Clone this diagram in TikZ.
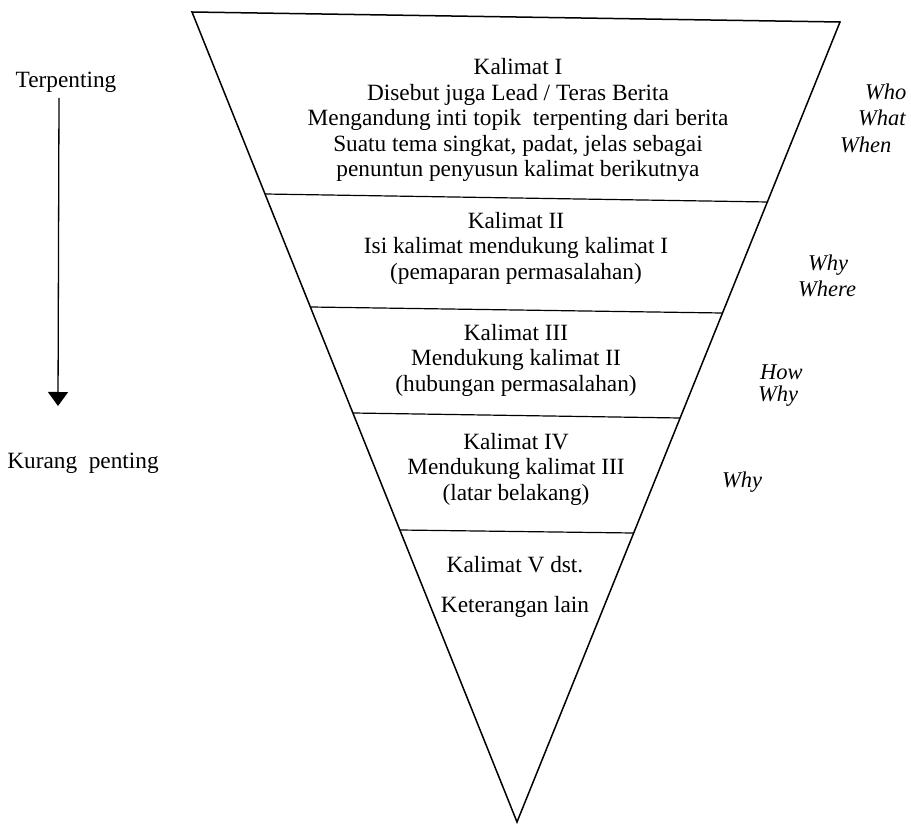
\documentclass[tikz,border=0pt]{standalone}
\usepackage{fontspec}
\setmainfont{Liberation Serif}
\usetikzlibrary{arrows.meta}
\begin{document}
\begin{tikzpicture}[x=1pt,y=-1pt,
  txt/.style={font=\fontsize{23.3}{25.5}\selectfont, align=center, inner sep=0pt},
  side/.style={font=\fontsize{23.3}{25.5}\selectfont, inner sep=0pt},
  lab/.style={font=\fontsize{22.5}{24}\selectfont\itshape, inner sep=0pt, anchor=west},
  edgeline/.style={line width=1.5pt, line join=miter},
  divline/.style={line width=1.2pt}]
\useasboundingbox (0,0) rectangle (911,826);
% triangle
\coordinate (TL) at (192,12);
\coordinate (TR) at (840,22);
\coordinate (AP) at (517,822);
\draw[edgeline] (TL) -- (TR) -- (AP) -- cycle;
% dividing lines
\coordinate (L1) at (265,194); \coordinate (R1) at (768,202);
\coordinate (L2) at (311,307); \coordinate (R2) at (722,313);
\coordinate (L3) at (353,413); \coordinate (R3) at (680,418);
\coordinate (L4) at (400,530); \coordinate (R4) at (633,533);
\draw[divline] (L1) -- (R1);
\draw[divline] (L2) -- (R2);
\draw[divline] (L3) -- (R3);
\draw[divline] (L4) -- (R4);
% texts
\node[txt] (k1) at (518,120) {Kalimat I\\Disebut juga Lead / Teras Berita\\Mengandung inti topik\ \ terpenting dari berita\\Suatu tema singkat, padat, jelas sebagai\\penuntun penyusun kalimat berikutnya};
\node[txt] (k2) at (516,248) {Kalimat II\\Isi kalimat mendukung kalimat I\\(pemaparan permasalahan)};
\node[txt] (k3) at (516,360) {Kalimat III\\Mendukung kalimat II\\(hubungan permasalahan)};
\node[txt] (k4) at (516,469) {Kalimat IV\\Mendukung kalimat III\\(latar belakang)};
\node[txt] (k5) at (515,587) {Kalimat V dst.\\[14pt]Keterangan lain};
% right labels
\node[lab] (who) at (865,92) {Who};
\node[lab] (what) at (858,118) {What};
\node[lab] (when) at (840,145) {When};
\node[lab] (why1) at (808,265) {Why};
\node[lab] (where) at (798,289) {Where};
\node[lab] (how) at (760,372) {How};
\node[lab] (why2) at (758,396) {Why};
\node[lab] (why3) at (722,482) {Why};
% left side
\node[side] (top) at (66,82) {Terpenting};
\node[side] (bot) at (83,463) {Kurang\ \ penting};
\coordinate (a1) at (59,98);
\coordinate (a2) at (58,406);
\draw[line width=1.3pt, -{Triangle[width=20pt,length=14pt]}] (a1) -- (a2);
\end{tikzpicture}
\end{document}
